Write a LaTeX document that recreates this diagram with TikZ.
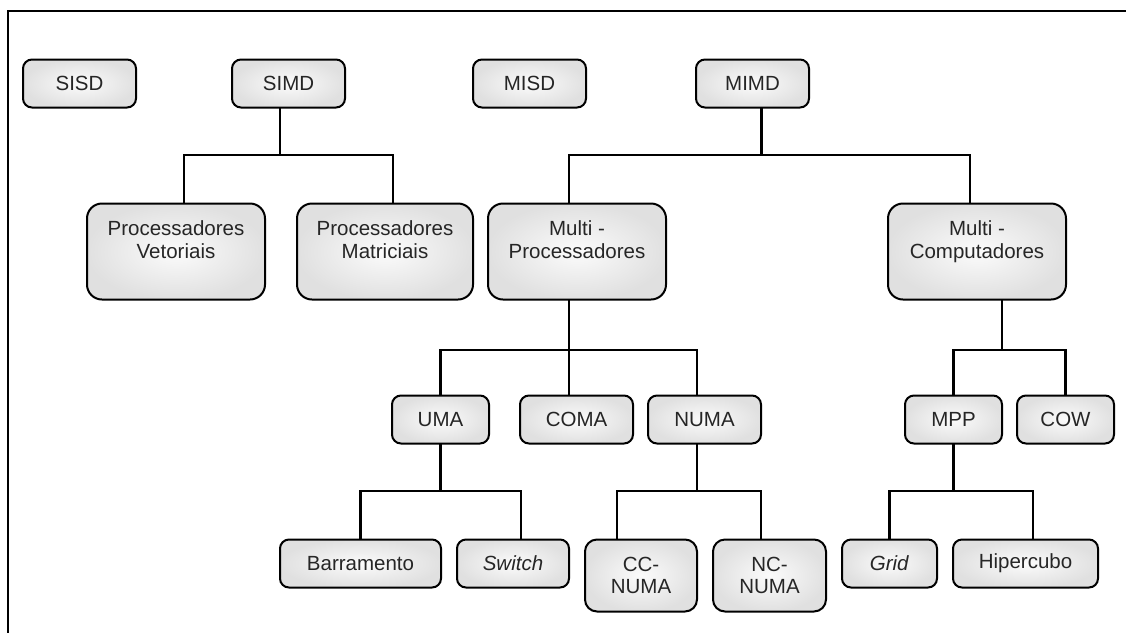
\documentclass[tikz,border=0pt]{standalone}
\usepackage{fontspec}
\setmainfont{Liberation Sans}
\usetikzlibrary{positioning}

\newcommand{\liftup}{\rule[-24pt]{0pt}{0pt}}

\begin{document}
\begin{tikzpicture}[x=1pt,y=-1pt,
                    box/.style={draw,line width=2pt,rounded corners=9pt,inner sep=0pt,
                    outer sep=0pt,shading=radial,inner color=gray!3,outer color=gray!24,
                    minimum height=48pt,align=center,text=black!85,
                    font=\fontsize{20.5}{22.5}\selectfont},
                    bigbox/.style={box,rounded corners=15pt,minimum width=178pt,
                    minimum height=96pt,execute at end node=\liftup},
                    link/.style={line width=2.2pt}]

\useasboundingbox (0,0) rectangle (1126,633);
\draw[line width=2.5pt] (1126,11) -- (8,11) -- (8,633);

\node[box,minimum width=113pt] (SISD) at (79.5,83.5) {SISD};
\node[box,minimum width=113pt,right=96pt of SISD] (SIMD) {SIMD};
\node[box,minimum width=113pt,right=128pt of SIMD] (MISD) {MISD};
\node[box,minimum width=113pt,right=110pt of MISD] (MIMD) {MIMD};

\node[bigbox,below=96pt of SIMD,xshift=-112.5pt] (PV) {Processadores\\Vetoriais};
\node[bigbox,minimum width=176pt,right=32pt of PV] (PM) {Processadores\\Matriciais};
\node[bigbox,right=15pt of PM] (MP) {Multi -\\Processadores};
\node[bigbox,right=222pt of MP] (MC) {Multi -\\Computadores};

\node[box,minimum width=97pt,below=96pt of MP,xshift=-136.5pt] (UMA) {UMA};
\node[box,minimum width=113pt,right=31pt of UMA] (COMA) {COMA};
\node[box,minimum width=113pt,right=15pt of COMA] (NUMA) {NUMA};
\node[box,minimum width=97pt,below=96pt of MC,xshift=-23.5pt] (MPP) {MPP};
\node[box,minimum width=97pt,right=15pt of MPP] (COW) {COW};

\node[box,minimum width=161pt,below=96pt of UMA,xshift=-80pt] (Barr) {Barramento};
\node[box,minimum width=112pt,right=16pt of Barr] (Sw) {\textit{Switch}};
\node[box,minimum width=112pt,minimum height=72pt,rounded corners=12pt,
      below=96pt of NUMA,xshift=-63.5pt] (CCNUMA) {CC-\\NUMA};
\node[box,minimum width=113pt,minimum height=72pt,rounded corners=12pt,
      right=16pt of CCNUMA] (NCNUMA) {NC-\\NUMA};
\node[box,minimum width=95pt,below=96pt of MPP,xshift=-64pt] (Grid) {\textit{Grid}};
\node[box,minimum width=145pt,right=16pt of Grid] (Hiper) {Hipercubo};

\coordinate (bus1) at (0,155);
\coordinate (bus2) at (0,350);
\coordinate (bus3) at (0,491);

\draw[link] ([xshift=-8.5pt]SIMD.south) -- ([xshift=-8.5pt]SIMD.south |- bus1);
\draw[link] ([xshift=8pt]PV.north) |- ([xshift=8pt]PM.north |- bus1) -- ([xshift=8pt]PM.north);

\draw[link] ([xshift=9pt]MIMD.south) -- ([xshift=9pt]MIMD.south |- bus1);
\draw[link] ([xshift=-8pt]MP.north) |- ([xshift=-7pt]MC.north |- bus1) -- ([xshift=-7pt]MC.north);

\draw[link] ([xshift=-8pt]MP.south) -- ([xshift=-8pt]MP.south |- bus2);
\draw[link] (UMA.north) |- ([xshift=-7.5pt]NUMA.north |- bus2) -- ([xshift=-7.5pt]NUMA.north);
\draw[link] ([xshift=-7.5pt]COMA.north) -- ([xshift=-7.5pt]COMA.north |- bus2);

\draw[link] ([xshift=25pt]MC.south) -- ([xshift=25pt]MC.south |- bus2);
\draw[link] (MPP.north) |- (COW.north |- bus2) -- (COW.north);

\draw[link] (UMA.south) -- (UMA.south |- bus3);
\draw[link] (Barr.north) |- ([xshift=8pt]Sw.north |- bus3) -- ([xshift=8pt]Sw.north);

\draw[link] ([xshift=-7.5pt]NUMA.south) -- ([xshift=-7.5pt]NUMA.south |- bus3);
\draw[link] ([xshift=-24pt]CCNUMA.north) |- ([xshift=-8.5pt]NCNUMA.north |- bus3) -- ([xshift=-8.5pt]NCNUMA.north);

\draw[link] (MPP.south) -- (MPP.south |- bus3);
\draw[link] (Grid.north) |- ([xshift=7.5pt]Hiper.north |- bus3) -- ([xshift=7.5pt]Hiper.north);

\end{tikzpicture}
\end{document}
